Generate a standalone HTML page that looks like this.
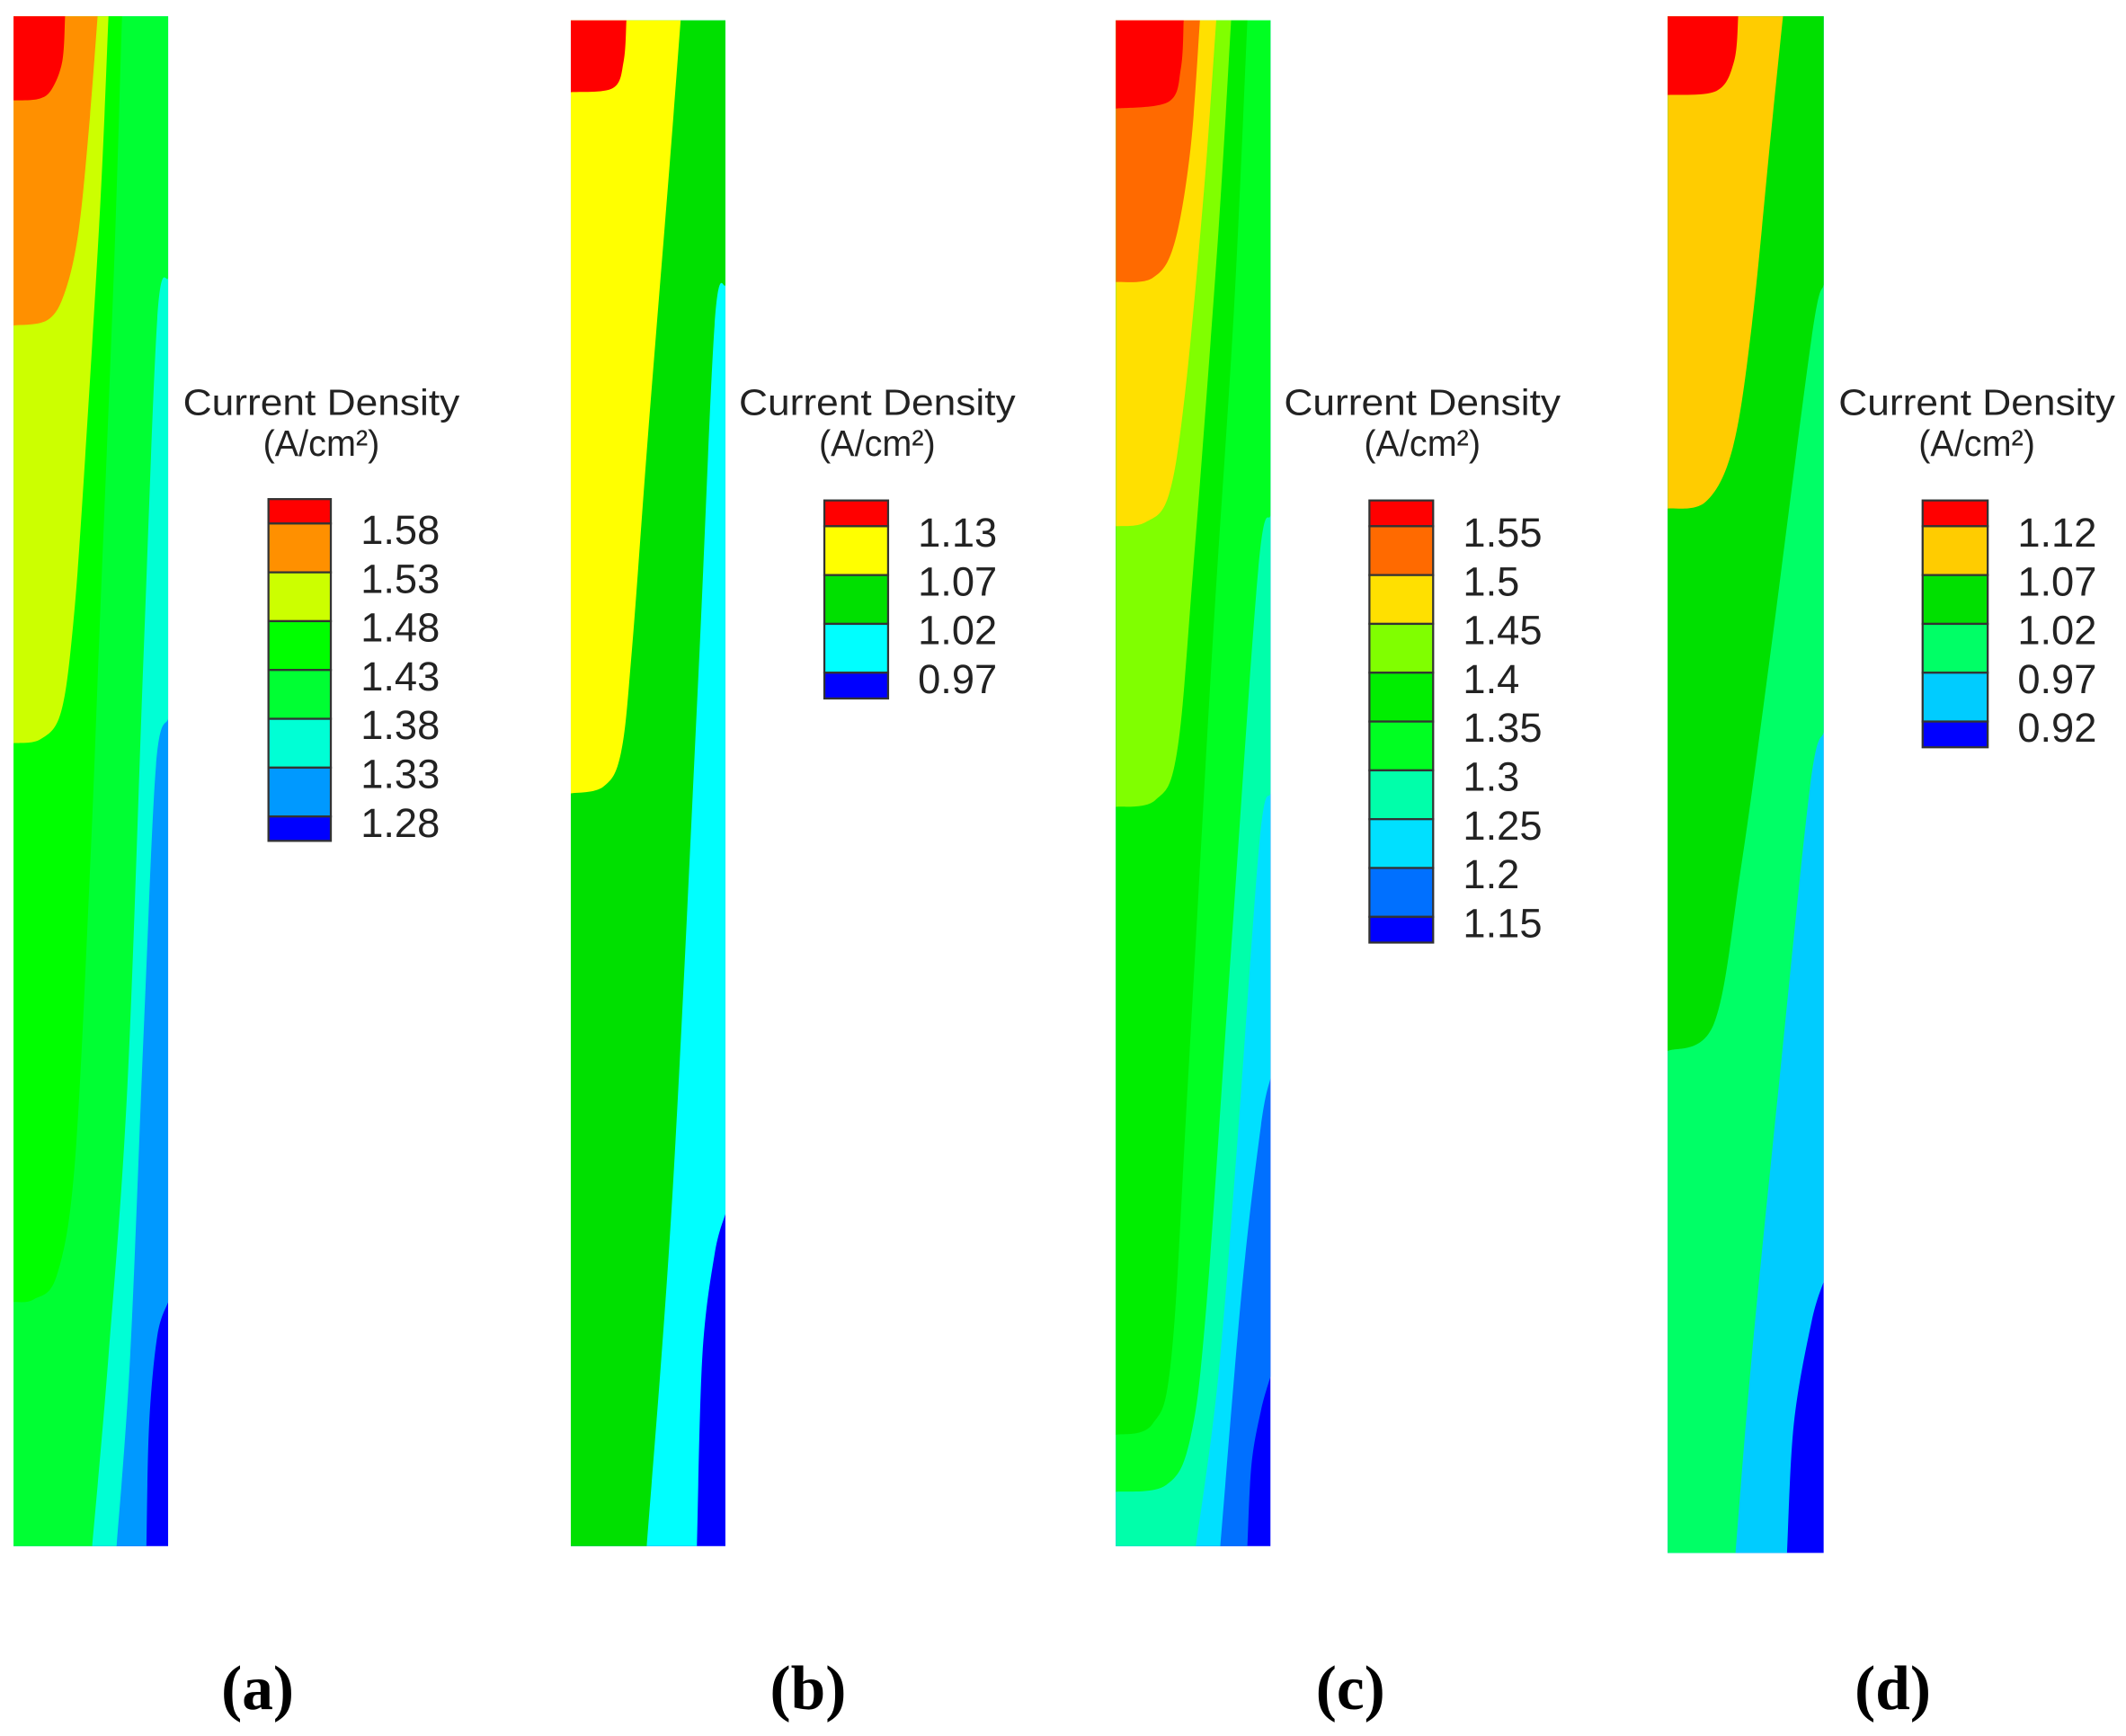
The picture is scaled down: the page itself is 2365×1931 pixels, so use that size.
<!DOCTYPE html>
<html><head><meta charset="utf-8"><style>
html,body{margin:0;padding:0;background:#fff;}
svg{display:block;}
text{font-family:"Liberation Sans",sans-serif;fill:#222;}
.cap{font-family:"Liberation Serif",serif;font-weight:bold;fill:#000;}
</style></head><body>
<svg id="fig" width="2365" height="1931" viewBox="0 0 1568 1280" preserveAspectRatio="none" xmlns="http://www.w3.org/2000/svg"></svg>
<script>
// ---- data ----
const panelIds = ['a','b','c','d'];
const levelsA = ['1.58','1.53','1.48','1.43','1.38','1.33','1.28'];
const levelsB = ['1.13','1.07','1.02','0.97'];
const levelsC = ['1.55','1.5','1.45','1.4','1.35','1.3','1.25','1.2','1.15'];
const levelsD = ['1.12','1.07','1.02','0.97','0.92'];
// colours from highest bin to lowest bin
const colorsA = ['#ff0000','#ff9000','#ccff00','#00ff00','#00ff33','#00ffd5','#0099ff','#0000ff'];
const colorsB = ['#ff0000','#ffff00','#00e000','#00ffff','#0000ff'];
const colorsC = ['#ff0000','#ff6a00','#ffe000','#80ff00','#00ee00','#00ff22','#00ffaa','#00e0ff','#0070ff','#0000ff'];
const colorsD = ['#ff0000','#ffcc00','#00e000','#00ff66','#00ccff','#0000ff'];
// contour lines (boundaries between bins), highest first, traced in field coordinates
const contoursA = [
 [[48,12],[46,45],[38,66],[28,73],[10,74]],
 [[72,12],[66,90],[58,170],[48,215],[35,236],[10,240]],
 [[80,12],[74,150],[62,350],[54,460],[45,525],[30,545],[10,548]],
 [[90,12],[84,200],[74,450],[66,650],[55,860],[42,940],[25,958],[10,960]],
 [[124,205],[116,235],[106,480],[94,800],[80,1000],[68,1140]],
 [[124,530],[115,565],[106,760],[96,1000],[86,1140]],
 [[124,960],[116,985],[110,1050],[108,1140]]
];
const contoursB = [
 [[462,15],[460,45],[452,65],[421,68]],
 [[502,15],[494,120],[478,320],[466,480],[458,555],[445,580],[421,585]],
 [[535,210],[527,240],[515,500],[496,880],[477,1140]],
 [[535,895],[527,925],[518,1000],[514,1140]]
];
const contoursC = [
 [[873,15],[871,50],[862,75],[823,80]],
 [[885,15],[878,110],[866,180],[850,205],[823,208]],
 [[897,15],[888,140],[874,290],[862,365],[845,385],[823,388]],
 [[908,15],[898,180],[880,420],[868,555],[852,590],[823,595]],
 [[920,15],[910,230],[894,480],[876,800],[864,1000],[850,1050],[823,1058]],
 [[937,380],[928,420],[908,700],[890,960],[878,1060],[860,1095],[823,1100]],
 [[937,585],[929,620],[912,850],[898,1020],[882,1140]],
 [[937,795],[930,830],[916,950],[900,1140]],
 [[937,1015],[930,1040],[923,1080],[920,1140]]
];
const contoursD = [
 [[1282,12],[1279,45],[1266,67],[1230,70]],
 [[1315,12],[1306,100],[1292,240],[1278,330],[1258,370],[1230,375]],
 [[1345,210],[1336,250],[1306,480],[1284,640],[1264,755],[1230,775]],
 [[1345,540],[1335,580],[1312,800],[1292,1000],[1280,1145]],
 [[1345,945],[1336,975],[1323,1050],[1318,1145]]
];
// ---- layout (not data) ----
const fields = [
 {x0:10,x1:124,top:12,bot:1140,lx:198,ly:368,lw:46,top0:18,bin:36,tcx:237,cap:190},
 {x0:421,x1:535,top:15,bot:1140,lx:608,ly:369,lw:47,top0:19,bin:36,tcx:647,cap:596},
 {x0:823,x1:937,top:15,bot:1140,lx:1010,ly:369,lw:47,top0:19,bin:36,tcx:1049,cap:996},
 {x0:1230,x1:1345,top:12,bot:1145,lx:1418,ly:369,lw:48,top0:19,bin:36,tcx:1458,cap:1396}
];
const allLevels=[levelsA,levelsB,levelsC,levelsD];
const allColors=[colorsA,colorsB,colorsC,colorsD];
const allContours=[contoursA,contoursB,contoursC,contoursD];
const NS='http://www.w3.org/2000/svg';
const svg=document.getElementById('fig');
function mk(tag,attrs,parent){const e=document.createElementNS(NS,tag);for(const k in attrs)e.setAttribute(k,attrs[k]);parent.appendChild(e);return e;}
function smoothPath(pts){
 let d='M'+pts[0][0]+','+pts[0][1];
 for(let i=0;i<pts.length-1;i++){
  const p0=pts[Math.max(0,i-1)],p1=pts[i],p2=pts[i+1],p3=pts[Math.min(pts.length-1,i+2)];
  const c1=[p1[0]+(p2[0]-p0[0])/6,p1[1]+(p2[1]-p0[1])/6];
  const c2=[p2[0]-(p3[0]-p1[0])/6,p2[1]-(p3[1]-p1[1])/6];
  d+=' C'+c1[0]+','+c1[1]+' '+c2[0]+','+c2[1]+' '+p2[0]+','+p2[1];
 }
 return d;
}
fields.forEach((f,pi)=>{
 const g=mk('g',{},svg);
 
 
 const cols=allColors[pi], cons=allContours[pi], levs=allLevels[pi];
 const base=mk('rect',{x:f.x0,y:f.top,width:f.x1-f.x0,height:f.bot-f.top,fill:cols[cols.length-1]},g);
 
 
 for(let k=cons.length-1;k>=0;k--){
  const pts=cons[k];
  const first=pts[0], last=pts[pts.length-1];
  let d='M'+f.x0+','+f.top;
  if(first[0]>=f.x1) d+=' L'+f.x1+','+f.top+' L'+first[0]+','+first[1];
  else d+=' L'+first[0]+','+first[1];
  d+=smoothPath(pts).replace(/^M[^ C]+/,'');
  d+=' L'+f.x0+','+last[1]+' Z';
  const p=mk('path',{d:d,fill:cols[k]},g);
  
  
 }
 // legend
 const lg=mk('g',{},g);
 
 
 const t1=mk('text',{x:f.tcx-102,y:306,'font-size':27,textLength:204,lengthAdjust:'spacingAndGlyphs'},lg);t1.textContent='Current Density';
 
 
 const t2=mk('text',{x:f.tcx-43,y:336,'font-size':27,textLength:86,lengthAdjust:'spacingAndGlyphs'},lg);t2.textContent='(A/cm²)';
 
 
 let y=f.ly;
 cols.forEach((c,i)=>{
  const h=(i===0||i===cols.length-1)?f.top0:f.bin;
  const r=mk('rect',{x:f.lx,y:y,width:f.lw,height:h,fill:c,stroke:'#333','stroke-width':1.5},lg);
  
  
  y+=h;
 });
 levs.forEach((l,i)=>{
  const ty=f.ly+f.top0+i*f.bin+15;
  const t=mk('text',{x:f.lx+f.lw+22,y:ty,'font-size':30},lg);t.textContent=l;
  
  
 });
 const cap=mk('text',{x:f.cap,y:1260,'font-size':46,'text-anchor':'middle',class:'cap'},g);
 cap.textContent='('+panelIds[pi]+')';
 
 
});
</script>
</body></html>
